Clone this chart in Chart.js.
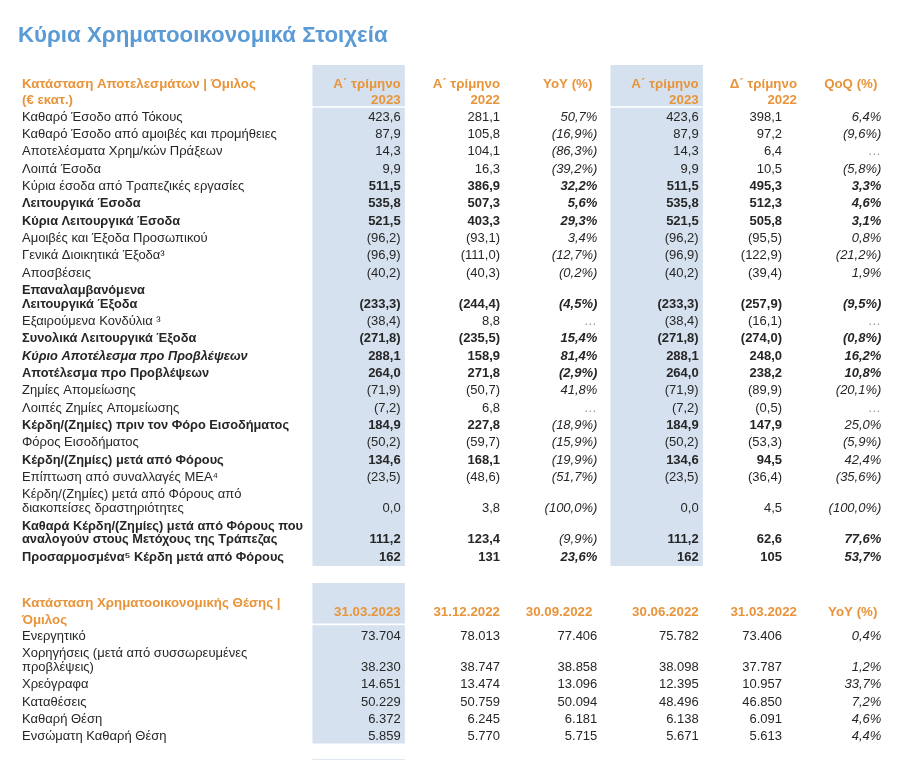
<!DOCTYPE html>
<html lang="el">
<head>
<meta charset="utf-8">
<script src="https://cdn.jsdelivr.net/npm/chart.js@4.4.0/dist/chart.umd.min.js"></script>
<style>
    body { margin: 0; background: #ffffff; }
    #wrap { width: 910px; height: 760px; }
</style>
</head>
<body>
<div id="wrap"><canvas id="tbl" width="910" height="760"></canvas></div>
<script>
// ---- Κατάσταση Αποτελεσμάτων (€ εκατ.) ----
var incomeRows = [
    "Καθαρό Έσοδο από Τόκους",
    "Καθαρό Έσοδο από αμοιβές και προμήθειες",
    "Αποτελέσματα Χρημ/κών Πράξεων",
    "Λοιπά Έσοδα",
    "Κύρια έσοδα από Τραπεζικές εργασίες",
    "Λειτουργικά Έσοδα",
    "Κύρια Λειτουργικά Έσοδα",
    "Αμοιβές και Έξοδα Προσωπικού",
    "Γενικά Διοικητικά Έξοδα³",
    "Αποσβέσεις",
    "Επαναλαμβανόμενα\nΛειτουργικά Έξοδα",
    "Εξαιρούμενα Κονδύλια ³",
    "Συνολικά Λειτουργικά Έξοδα",
    "Κύριο Αποτέλεσμα προ Προβλέψεων",
    "Αποτέλεσμα προ Προβλέψεων",
    "Ζημίες Απομείωσης",
    "Λοιπές Ζημίες Απομείωσης",
    "Κέρδη/(Ζημίες) πριν τον Φόρο Εισοδήματος",
    "Φόρος Εισοδήματος",
    "Κέρδη/(Ζημίες) μετά από Φόρους",
    "Επίπτωση από συναλλαγές ΜΕΑ⁴",
    "Κέρδη/(Ζημίες) μετά από Φόρους από\nδιακοπείσες δραστηριότητες",
    "Καθαρά Κέρδη/(Ζημίες) μετά από Φόρους που\nαναλογούν στους Μετόχους της Τράπεζας",
    "Προσαρμοσμένα⁵ Κέρδη μετά από Φόρους"
];
var incomeHeaders = [["Α΄ τρίμηνο", "2023"], ["Α΄ τρίμηνο", "2022"], ["YoY (%)"], ["Α΄ τρίμηνο", "2023"], ["Δ΄ τρίμηνο", "2022"], ["QoQ (%)"]];
var q1_2023 = [423.6, 87.9, 14.3, 9.9, 511.5, 535.8, 521.5, -96.2, -96.9, -40.2, -233.3, -38.4, -271.8, 288.1, 264.0, -71.9, -7.2, 184.9, -50.2, 134.6, -23.5, 0.0, 111.2, 162];
var q1_2022 = [281.1, 105.8, 104.1, 16.3, 386.9, 507.3, 403.3, -93.1, -111.0, -40.3, -244.4, 8.8, -235.5, 158.9, 271.8, -50.7, 6.8, 227.8, -59.7, 168.1, -48.6, 3.8, 123.4, 131];
var yoyPct = [50.7, -16.9, -86.3, -39.2, 32.2, 5.6, 29.3, 3.4, -12.7, -0.2, -4.5, null, 15.4, 81.4, -2.9, 41.8, null, -18.9, -15.9, -19.9, -51.7, -100.0, -9.9, 23.6];
var q4_2022 = [398.1, 97.2, 6.4, 10.5, 495.3, 512.3, 505.8, -95.5, -122.9, -39.4, -257.9, -16.1, -274.0, 248.0, 238.2, -89.9, -0.5, 147.9, -53.3, 94.5, -36.4, 4.5, 62.6, 105];
var qoqPct = [6.4, -9.6, null, -5.8, 3.3, 4.6, 3.1, 0.8, -21.2, 1.9, -9.5, null, -0.8, 16.2, 10.8, -20.1, null, 25.0, -5.9, 42.4, -35.6, -100.0, 77.6, 53.7];

// ---- Κατάσταση Χρηματοοικονομικής Θέσης ----
var balanceRows = [
    "Ενεργητικό",
    "Χορηγήσεις (μετά από συσσωρευμένες\nπροβλέψεις)",
    "Χρεόγραφα",
    "Καταθέσεις",
    "Καθαρή Θέση",
    "Ενσώματη Καθαρή Θέση"
];
var balanceDates = ["31.03.2023", "31.12.2022", "30.09.2022", "30.06.2022", "31.03.2022", "YoY (%)"];
var bal_31_03_2023 = [73704, 38230, 14651, 50229, 6372, 5859];
var bal_31_12_2022 = [78013, 38747, 13474, 50759, 6245, 5770];
var bal_30_09_2022 = [77406, 38858, 13096, 50094, 6181, 5715];
var bal_30_06_2022 = [75782, 38098, 12395, 48496, 6138, 5671];
var bal_31_03_2022 = [73406, 37787, 10957, 46850, 6091, 5613];
var balYoyPct = [0.4, 1.2, 33.7, 7.2, 4.6, 4.4];

// ---- styles (kept apart from the data) ----
var FONT = 'Arial, "Liberation Sans", sans-serif';
var FS_HEAD = 13.3, FS = 13, FS_BOLD = 12.8;
var ORANGE = '#e8943a';
var BLUE_BG = '#d5e1ee';
var TEXT = '#262626';
var labelStyle1 = ['', '', '', '', '', 'b', 'b', '', '', '', 'b', '', 'b', 'bi', 'b', '', '', 'b', '', 'b', '', '', 'b', 'b'];
var valueBold1 = [0, 0, 0, 0, 1, 1, 1, 0, 0, 0, 1, 0, 1, 1, 1, 0, 0, 1, 0, 1, 0, 0, 1, 1];
var yoyBold1 = [0, 0, 0, 0, 1, 1, 1, 0, 0, 0, 1, 0, 1, 1, 1, 0, 0, 0, 0, 0, 0, 0, 0, 1];
var qoqBold1 = [0, 0, 0, 0, 1, 1, 1, 0, 0, 0, 1, 0, 1, 1, 1, 0, 0, 0, 0, 0, 0, 0, 1, 1];
var integerRows1 = [23];

// layout in row units (1 unit = one text line)
var LINE2 = 0.8;          // gap between the two lines of a wrapped row
var t1Start = 0, t2Start = 29.95;
var valueRight = [42, 42, 40, 42, 26, 26];
var headRight = [42, 42, 35, 42, 41, 22];

function rowSlots(rows, start) {
    var s = start, out = [];
    rows.forEach(function (r) {
        if (r.indexOf('\n') >= 0) {
            out.push({ first: s, value: s + LINE2 });
            s += 1 + LINE2;
        } else {
            out.push({ first: s, value: s });
            s += 1;
        }
    });
    return out;
}
var slots1 = rowSlots(incomeRows, t1Start);
var slots2 = rowSlots(balanceRows, t2Start);

function fmtNum(v, dec) {
    var s = Math.abs(v).toFixed(dec).replace('.', ',');
    return v < 0 ? '(' + s + ')' : s;
}
function fmtPct(v) {
    if (v === null) return '…';
    var s = Math.abs(v).toFixed(1).replace('.', ',') + '%';
    return v < 0 ? '(' + s + ')' : s;
}
function fmtThousands(v) {
    return String(v).replace(/\B(?=(\d{3})+(?!\d))/g, '.');
}

// shaded columns (Α΄ τρίμηνο 2023 / 31.03.2023) as floating bars
var colKeys = ['l0', 'l1', 'l2', 'c1', 'c2', 'c3', 'c4', 'c5', 'c6'];
var t1Bottom = slots1[slots1.length - 1].value + 0.5;
var t2Bottom = slots2[slots2.length - 1].value + 0.4;
function band(top, bottom, keys) {
    return colKeys.map(function (k) { return keys.indexOf(k) >= 0 ? [top, bottom] : null; });
}
var bands = [
    band(t1Start - 3.0, t1Start - 0.62, ['c1', 'c4']),
    band(t1Start - 0.53, t1Bottom, ['c1', 'c4']),
    band(t2Start - 3.06, t2Start - 0.72, ['c1']),
    band(t2Start - 0.63, t2Bottom, ['c1']),
    band(t2Start + 7.1, t2Start + 9, ['c1'])
];

function setFont(ctx, size, bold, italic) {
    ctx.font = (italic ? 'italic ' : '') + (bold ? 'bold ' : '') + size + 'px ' + FONT;
}

const tableText = {
    id: 'tableText',
    afterDatasetsDraw(chart) {
        const ctx = chart.ctx;
        const xs = chart.scales.x, ys = chart.scales.y;
        const left = chart.chartArea.left + 11;
        const colX = function (ci, head) {
            return xs.getPixelForValue(ci + 3) + (head ? headRight[ci] : valueRight[ci]);
        };
        ctx.save();
        ctx.textBaseline = 'middle';

        // title
        ctx.fillStyle = '#5b9bd5';
        setFont(ctx, 22.3, true, false);
        ctx.textAlign = 'left';
        ctx.fillText('Κύρια Χρηματοοικονομικά Στοιχεία', chart.chartArea.left + 7, ys.getPixelForValue(-4.68));

        // ---- table 1 header ----
        ctx.fillStyle = ORANGE;
        setFont(ctx, FS_HEAD, true, false);
        ctx.fillText('Κατάσταση Αποτελεσμάτων | Όμιλος', left, ys.getPixelForValue(t1Start - 1.9));
        ctx.fillText('(€ εκατ.)', left, ys.getPixelForValue(t1Start - 0.98));
        ctx.textAlign = 'right';
        incomeHeaders.forEach(function (h, ci) {
            h.forEach(function (line, li) {
                ctx.fillText(line, colX(ci, true), ys.getPixelForValue(t1Start - 1.9 + li * 0.92));
            });
        });

        // ---- table 1 body ----
        var cols1 = [q1_2023, q1_2022, yoyPct, q1_2023, q4_2022, qoqPct];
        incomeRows.forEach(function (label, ri) {
            var st = labelStyle1[ri];
            var isBold = st.indexOf('b') >= 0;
            ctx.textAlign = 'left';
            ctx.fillStyle = TEXT;
            setFont(ctx, isBold ? FS_BOLD : FS, isBold, st.indexOf('i') >= 0);
            label.split('\n').forEach(function (line, li) {
                ctx.fillText(line, left, ys.getPixelForValue(slots1[ri].first + li * LINE2));
            });
            ctx.textAlign = 'right';
            var yv = ys.getPixelForValue(slots1[ri].value);
            cols1.forEach(function (series, ci) {
                var v = series[ri];
                var isPct = (ci === 2 || ci === 5);
                var txt, bold;
                if (isPct) {
                    txt = fmtPct(v);
                    bold = (ci === 2 ? yoyBold1[ri] : qoqBold1[ri]) === 1;
                } else {
                    txt = fmtNum(v, integerRows1.indexOf(ri) >= 0 ? 0 : 1);
                    bold = valueBold1[ri] === 1;
                }
                ctx.fillStyle = v === null ? '#9a9a9a' : TEXT;
                setFont(ctx, FS, bold, isPct);
                ctx.fillText(txt, colX(ci, false), yv);
            });
        });

        // ---- table 2 header ----
        ctx.fillStyle = ORANGE;
        setFont(ctx, FS_HEAD, true, false);
        ctx.textAlign = 'left';
        ctx.fillText('Κατάσταση Χρηματοοικονομικής Θέσης |', left, ys.getPixelForValue(t2Start - 1.91));
        ctx.fillText('Όμιλος', left, ys.getPixelForValue(t2Start - 0.93));
        ctx.textAlign = 'right';
        balanceDates.forEach(function (d, ci) {
            ctx.fillText(d, colX(ci, true), ys.getPixelForValue(t2Start - 1.39));
        });

        // ---- table 2 body ----
        var cols2 = [bal_31_03_2023, bal_31_12_2022, bal_30_09_2022, bal_30_06_2022, bal_31_03_2022, balYoyPct];
        balanceRows.forEach(function (label, ri) {
            ctx.textAlign = 'left';
            ctx.fillStyle = TEXT;
            setFont(ctx, FS, false, false);
            label.split('\n').forEach(function (line, li) {
                ctx.fillText(line, left, ys.getPixelForValue(slots2[ri].first + li * LINE2));
            });
            ctx.textAlign = 'right';
            var yv = ys.getPixelForValue(slots2[ri].value);
            cols2.forEach(function (series, ci) {
                var isPct = ci === 5;
                setFont(ctx, FS, false, isPct);
                ctx.fillText(isPct ? fmtPct(series[ri]) : fmtThousands(series[ri]), colX(ci, false), yv);
            });
        });
        ctx.restore();
    }
};

new Chart(document.getElementById('tbl'), {
    type: 'bar',
    data: {
        labels: colKeys,
        datasets: bands.map(function (b) {
            return {
                data: b,
                backgroundColor: BLUE_BG,
                borderWidth: 0,
                grouped: false,
                barPercentage: 0.93,
                categoryPercentage: 1.0
            };
        })
    },
    options: {
        responsive: false,
        animation: false,
        layout: { padding: { left: 11, right: 5, top: 0, bottom: 0 } },
        scales: {
            x: { display: false, offset: true },
            y: { display: false, reverse: true, min: -6.75, max: 37.1 }
        },
        plugins: {
            legend: { display: false },
            tooltip: { enabled: false }
        }
    },
    plugins: [tableText]
});
</script>
</body>
</html>
